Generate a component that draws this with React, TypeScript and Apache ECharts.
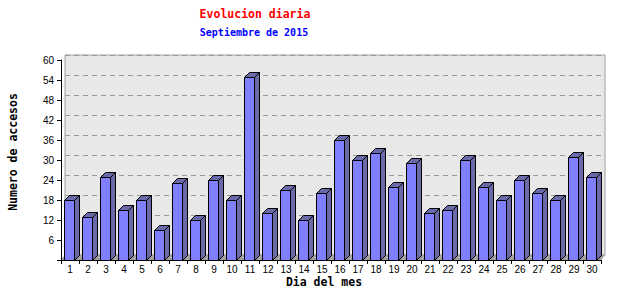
import React, { useEffect, useRef } from "react";
import * as echarts from "echarts";

const titleText = "Evolucion diaria";
const subtitleText = "Septiembre de 2015";
const xAxisName = "Dia del mes";
const yAxisName = "Numero de accesos";
const days = ["1","2","3","4","5","6","7","8","9","10","11","12","13","14","15","16","17","18","19","20","21","22","23","24","25","26","27","28","29","30"];
const visits = [18,13,25,15,18,9,23,12,24,18,55,14,21,12,20,36,30,32,22,29,14,15,30,22,18,24,20,18,31,25];
const yMin = 0;
const yMax = 60;
const yStep = 6;

const DEPTH = 5;

export default function App() {
  const ref = useRef<HTMLDivElement>(null);
  useEffect(() => {
    if (!ref.current) return;
    document.body.style.margin = "0";
    const chart = echarts.init(ref.current, undefined, { renderer: "svg" });
    const data = visits.map((v, i) => [i, v]);
    const option: any = {
      animation: false,
      backgroundColor: "#ffffff",
      grid: [
        { left: 61, right: 39, top: 60, bottom: 40, show: false },
        {
          left: 65, right: 35, top: 55, bottom: 45, show: true,
          backgroundColor: "#e8e8e8", borderColor: "#a0a0a0", borderWidth: 1,
        },
      ],
      xAxis: [
        {
          type: "category", gridIndex: 0, data: days,
          axisLine: { lineStyle: { color: "#000", width: 1 } },
          axisTick: { show: true, length: 4, lineStyle: { color: "#000" } },
          axisLabel: { color: "#000", fontFamily: "Liberation Sans", fontSize: 10, margin: 4 },
          splitLine: { show: false },
          z: 5,
        },
        {
          type: "value", gridIndex: 1, min: 0, max: 1, show: false,
        },
      ],
      yAxis: [
        {
          type: "value", gridIndex: 0, min: yMin, max: yMax, interval: yStep,
          axisLine: { show: true, lineStyle: { color: "#000", width: 1 } },
          axisTick: { show: true, length: 4, lineStyle: { color: "#000" } },
          axisLabel: {
            color: "#000", fontFamily: "Liberation Sans", fontSize: 10, margin: 7,
            formatter: (v: number) => (v === 0 ? "" : String(v)),
            padding: [5, 0, 0, 0],
          },
          splitLine: { show: false },
          z: 5,
        },
        {
          type: "value", gridIndex: 1, min: yMin, max: yMax, interval: yStep,
          axisLine: { show: false }, axisTick: { show: false }, axisLabel: { show: false },
          splitLine: { show: true, lineStyle: { color: "#999", type: [5, 4], width: 1 } },
        },
      ],
      series: [
        {
          type: "custom",
          xAxisIndex: 0, yAxisIndex: 0,
          z: 2,
          data,
          renderItem: (params: any, api: any) => {
            const idx = api.value(0);
            const base = api.coord([idx, 0]);
            const bw = api.size([1, 0])[0];
            const c = base[0];
            const bs = c - bw / 2;
            const be = c + bw / 2;
            const yb = base[1];
            return {
              type: "polygon",
              shape: { points: [[bs, yb], [be, yb], [be + 4, yb - DEPTH], [bs + 4, yb - DEPTH]] },
              style: { fill: "#a0a0a0", stroke: "#a0a0a0", lineWidth: 0.5 },
            };
          },
        },
        {
          type: "custom",
          xAxisIndex: 0, yAxisIndex: 0,
          z: 3,
          data,
          renderItem: (params: any, api: any) => {
            const idx = api.value(0);
            const v = api.value(1);
            const top = api.coord([idx, v]);
            const base = api.coord([idx, 0]);
            const c = Math.round(base[0]);
            const x0 = c - 6 + 0.5;
            const x1 = c + 4 + 0.5;
            const yt = Math.round(top[1]) + 0.5;
            const yb = Math.round(base[1]) + 0.5;
            const d = DEPTH;
            const stroke = { stroke: "#000", lineWidth: 1, lineJoin: "miter" };
            return {
              type: "group",
              children: [
                {
                  type: "polygon",
                  shape: { points: [[x1, yt], [x1 + d, yt - d], [x1 + d, yb - d], [x1, yb]] },
                  style: { fill: "#6a6aa8", ...stroke },
                },
                {
                  type: "polygon",
                  shape: { points: [[x0, yt], [x1, yt], [x1 + d, yt - d], [x0 + d, yt - d]] },
                  style: { fill: "#6a6aa8", ...stroke },
                },
                {
                  type: "rect",
                  shape: { x: x0, y: yt, width: x1 - x0, height: yb - yt },
                  style: { fill: "#8080ff", ...stroke },
                },
              ],
            };
          },
        },
      ],
      graphic: [
        {
          type: "text", x: 255, y: 14, z: 10,
          style: {
            text: titleText, fill: "#ff0000", fontFamily: "DejaVu Sans Mono",
            fontWeight: "bold", fontSize: 11.5, align: "center", verticalAlign: "middle",
          },
        },
        {
          type: "text", x: 254, y: 32, z: 10,
          style: {
            text: subtitleText, fill: "#0000ff", fontFamily: "DejaVu Sans Mono",
            fontWeight: "bold", fontSize: 10, align: "center", verticalAlign: "middle",
          },
        },
        {
          type: "text", x: 324, y: 282, z: 10,
          style: {
            text: xAxisName, fill: "#000", fontFamily: "DejaVu Sans Mono",
            fontWeight: "bold", fontSize: 11.5, align: "center", verticalAlign: "middle",
          },
        },
        {
          type: "text", x: 13, y: 152, z: 10, rotation: Math.PI / 2,
          style: {
            text: yAxisName, fill: "#000", fontFamily: "DejaVu Sans Mono",
            fontWeight: "bold", fontSize: 11.5, align: "center", verticalAlign: "middle",
          },
        },
      ],
    };
    chart.setOption(option);
    return () => chart.dispose();
  }, []);
  return <div ref={ref} style={{ width: 640, height: 300 }} />;
}
